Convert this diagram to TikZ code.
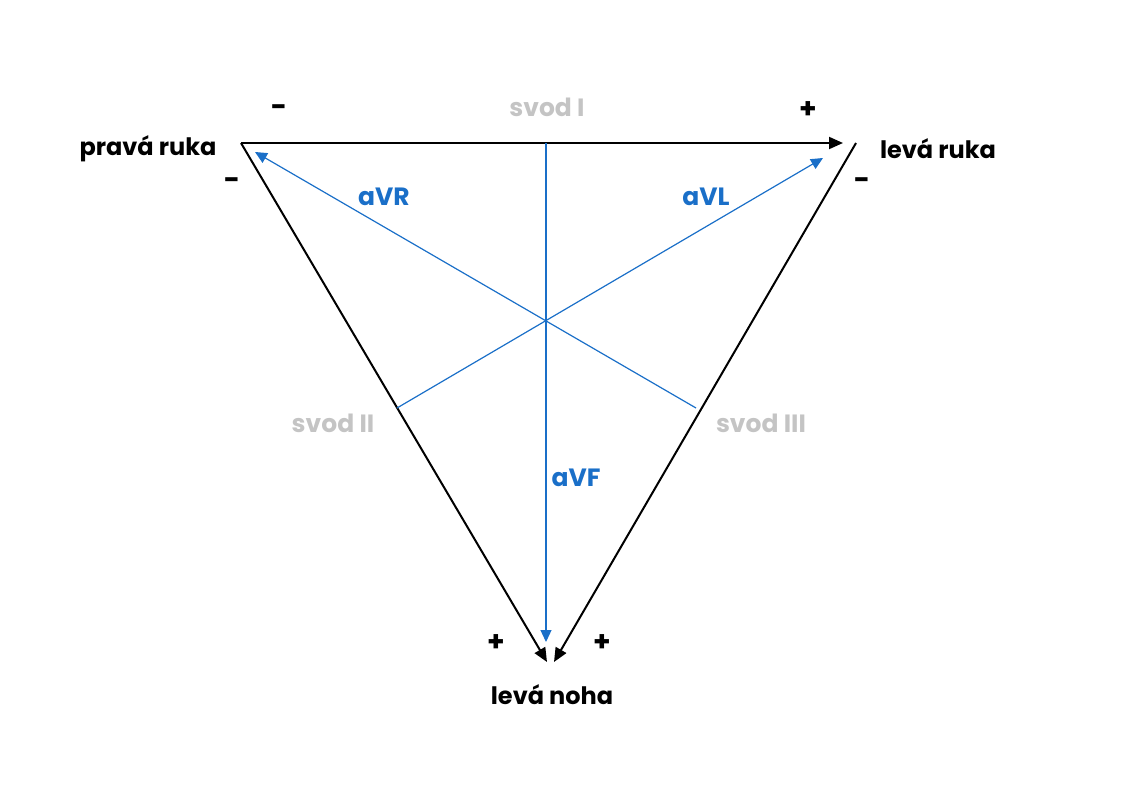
\documentclass[tikz,border=0pt]{standalone}
\usepackage{fontspec}
\setmainfont{Poppins}
\usetikzlibrary{arrows.meta}
\definecolor{leadblue}{HTML}{1A6FC8}
\definecolor{leadgray}{HTML}{C4C4C4}
\tikzset{
  limb/.style={line width=2pt,-{Triangle[length=14pt,width=12pt]}},
  augm/.style={leadblue,line width=1.2pt,-{Triangle[length=12pt,width=11pt]}},
  limbtext/.style={font=\fontsize{24}{28}\selectfont\bfseries},
  leadtext/.style={font=\fontsize{25}{28}\selectfont\bfseries,leadgray},
  augtext/.style={font=\fontsize{25}{28}\selectfont\bfseries,leadblue},
  sign/.style={font=\fontsize{28}{30}\selectfont\bfseries}
}
\begin{document}
\begin{tikzpicture}[x=1pt,y=-1pt]
  \useasboundingbox (0,0) rectangle (1124,808);
  % vertices of the triangle
  \coordinate (ra) at (241,143);
  \coordinate (la) at (856,143);
  \coordinate (laI) at (843,143);
  \coordinate (llII) at (547,662);
  \coordinate (llIII) at (554,662);
  \coordinate (midI) at (546,143);
  \coordinate (midII) at (397,408);
  \coordinate (midIII) at (696,408);
  \coordinate (tipR) at (255,152);
  \coordinate (tipL) at (823,158);
  \coordinate (tipF) at (546,642);
  % limb leads
  \draw[limb] (ra) -- (laI);
  \draw[limb] (ra) -- (llII);
  \draw[limb] (la) -- (llIII);
  % augmented leads
  \draw[augm] (midIII) -- (tipR);
  \draw[augm] (midII) -- (tipL);
  \draw[augm] (midI) -- (tipF);
  % labels
  \node[limbtext] (pravaruka) at (148,149) {pravá ruka};
  \node[limbtext] (levaruka) at (938,149) {levá ruka};
  \node[limbtext] (levanoha) at (552,695) {levá noha};
  \node[leadtext] (svodI) at (547,107) {svod I};
  \node[leadtext] (svodII) at (333,423) {svod II};
  \node[leadtext] (svodIII) at (761,423) {svod III};
  \node[augtext] (aVR) at (384,197) {aVR};
  \node[augtext] (aVL) at (706,197) {aVL};
  \node[augtext] (aVF) at (576,478) {aVF};
  \node[sign] (m1) at (279,111) {-};
  \node[sign] (p1) at (808,110) {+};
  \node[sign] (m2) at (232,184) {-};
  \node[sign] (m3) at (862,184) {-};
  \node[sign] (p2) at (496,643) {+};
  \node[sign] (p3) at (602,643) {+};
\end{tikzpicture}
\end{document}
